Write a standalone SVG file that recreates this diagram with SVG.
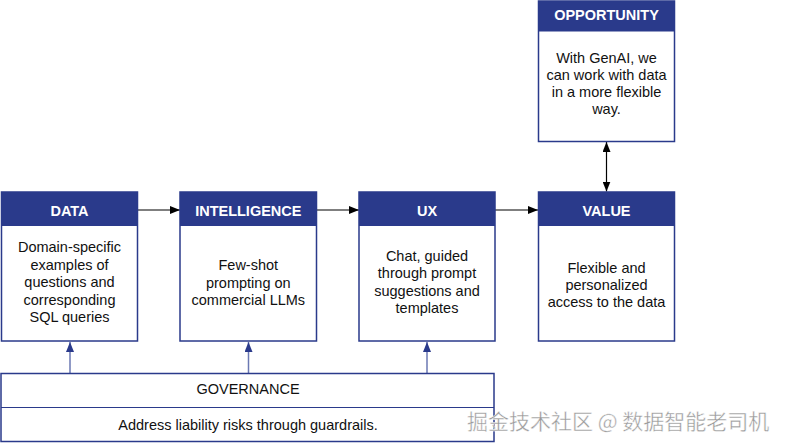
<svg xmlns="http://www.w3.org/2000/svg" width="788" height="447" viewBox="0 0 788 447">
<defs>
<style>
.hd{fill:#2a3a8b}
.bd{fill:#fff;stroke:#2a3a8b;stroke-width:1.5}
.ht{font-family:"Liberation Sans",Arial,sans-serif;font-size:14.5px;font-weight:bold;fill:#fff;text-anchor:middle}
.bt{font-family:"Liberation Sans",Arial,sans-serif;font-size:14.5px;fill:#111;text-anchor:middle}
.k{stroke:#000;stroke-width:1.2;fill:none}
.u{stroke:#6b78b3;stroke-width:1.5;fill:none}
.wm{font-family:"Noto Sans CJK SC","Liberation Sans",sans-serif;font-size:21px;fill:#999;stroke:#ffffff;stroke-width:0.4}
</style>
<marker id="ak" markerWidth="10" markerHeight="8" refX="10" refY="4" orient="auto-start-reverse" markerUnits="userSpaceOnUse"><path d="M0,0 L10,4 L0,8 Z" fill="#000"/></marker>
<marker id="au" markerWidth="10" markerHeight="8" refX="10" refY="4" orient="auto" markerUnits="userSpaceOnUse"><path d="M0,0 L10,4 L0,8 Z" fill="#2a3a8b"/></marker>
</defs>
<rect width="788" height="447" fill="#fff"/>
<g id="connectors">
<line class="k" x1="137.5" y1="210" x2="180" y2="210" marker-end="url(#ak)"/>
<line class="k" x1="316.5" y1="210" x2="359" y2="210" marker-end="url(#ak)"/>
<line class="k" x1="495" y1="210" x2="538" y2="210" marker-end="url(#ak)"/>
<line class="k" x1="606.5" y1="142" x2="606.5" y2="191.5" marker-start="url(#ak)" marker-end="url(#ak)"/>
<line class="u" x1="70" y1="373.5" x2="70" y2="342" marker-end="url(#au)"/>
<line class="u" x1="248.5" y1="373.5" x2="248.5" y2="342" marker-end="url(#au)"/>
<line class="u" x1="427" y1="373.5" x2="427" y2="342" marker-end="url(#au)"/>
</g>
<g id="data">
<rect class="bd" x="1.5" y="192" width="136" height="149"/>
<rect class="hd" x="1.5" y="192" width="136" height="34"/>
<text class="ht" x="69.5" y="215.5">DATA</text>
<text class="bt" x="69.5" y="252.3">Domain-specific</text>
<text class="bt" x="69.5" y="269.8">examples of</text>
<text class="bt" x="69.5" y="287.3">questions and</text>
<text class="bt" x="69.5" y="304.8">corresponding</text>
<text class="bt" x="69.5" y="322.3">SQL queries</text>
</g>
<g id="intelligence">
<rect class="bd" x="180" y="192" width="136.5" height="149"/>
<rect class="hd" x="180" y="192" width="136.5" height="34"/>
<text class="ht" x="248.3" y="215.5">INTELLIGENCE</text>
<text class="bt" x="248.3" y="270">Few-shot</text>
<text class="bt" x="248.3" y="287.5">prompting on</text>
<text class="bt" x="248.3" y="305">commercial LLMs</text>
</g>
<g id="ux">
<rect class="bd" x="359" y="192" width="136" height="149"/>
<rect class="hd" x="359" y="192" width="136" height="34"/>
<text class="ht" x="427" y="215.5">UX</text>
<text class="bt" x="427" y="261">Chat, guided</text>
<text class="bt" x="427" y="278.4">through prompt</text>
<text class="bt" x="427" y="295.8">suggestions and</text>
<text class="bt" x="427" y="313.2">templates</text>
</g>
<g id="value">
<rect class="bd" x="538.5" y="192" width="136" height="149"/>
<rect class="hd" x="538.5" y="192" width="136" height="34"/>
<text class="ht" x="606.5" y="215.5">VALUE</text>
<text class="bt" x="606.5" y="272.7">Flexible and</text>
<text class="bt" x="606.5" y="290">personalized</text>
<text class="bt" x="606.5" y="307.3">access to the data</text>
</g>
<g id="opportunity">
<rect class="bd" x="538.5" y="1" width="136" height="140.5"/>
<rect class="hd" x="538.5" y="1" width="136" height="30.5"/>
<text class="ht" x="606.5" y="20.3">OPPORTUNITY</text>
<text class="bt" x="606.5" y="62.7">With GenAI, we</text>
<text class="bt" x="606.5" y="79.7">can work with data</text>
<text class="bt" x="606.5" y="96.7">in a more flexible</text>
<text class="bt" x="606.5" y="113.7">way.</text>
</g>
<g id="governance">
<rect class="bd" x="1" y="373.5" width="493" height="68" stroke-width="1.2"/>
<line x1="1" y1="407.5" x2="494" y2="407.5" stroke="#2a3a8b" stroke-width="1.2"/>
<text class="bt" x="248" y="394">GOVERNANCE</text>
<text class="bt" x="248" y="429.5">Address liability risks through guardrails.</text>
</g>
<text class="wm" x="467" y="429">掘金技术社区 @ 数据智能老司机</text>
</svg>
